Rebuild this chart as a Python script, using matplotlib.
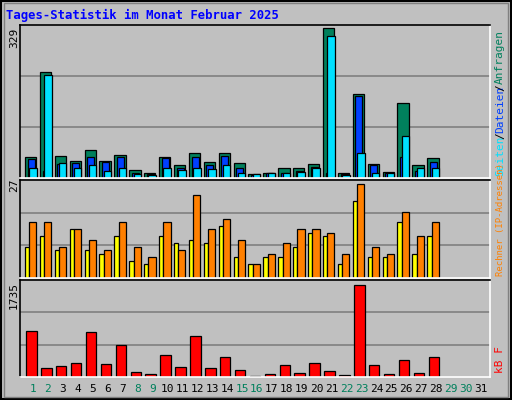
import matplotlib
matplotlib.use("Agg")
import matplotlib.pyplot as plt
from matplotlib.patches import Rectangle
import numpy as np

days = list(range(1, 29))
day_labels = [str(d) for d in range(1, 32)]
weekend = [1, 2, 8, 9, 15, 16, 22, 23, 29, 30]
hits = [47, 232, 49, 38, 62, 38, 51, 17, 10, 47, 28, 54, 35, 54, 32, 8, 12, 23, 21, 30, 329, 12, 184, 30, 13, 164, 28, 43]
files = [41, 15, 30, 32, 45, 36, 47, 10, 8, 43, 21, 47, 28, 49, 21, 6, 10, 12, 15, 25, 12, 8, 180, 28, 12, 47, 15, 36]
pages = [23, 227, 32, 21, 29, 15, 21, 8, 6, 21, 17, 23, 19, 28, 10, 8, 10, 10, 13, 21, 312, 6, 54, 12, 10, 93, 21, 23]
visits = [9, 12, 8, 14, 8, 7, 12, 5, 4, 12, 10, 11, 10, 15, 6, 4, 6, 6, 9, 13, 12, 4, 22, 6, 6, 16, 7, 12]
sites = [16, 16, 9, 14, 11, 8, 16, 9, 6, 16, 8, 24, 14, 17, 11, 4, 7, 10, 14, 14, 13, 7, 27, 9, 7, 19, 12, 16]
kbytes = [864, 178, 216, 273, 845, 254, 597, 102, 64, 407, 197, 769, 178, 369, 140, 25, 64, 235, 83, 273, 121, 44, 1735, 235, 64, 330, 83, 369]

W, H = 512, 400
fig = plt.figure(figsize=(W/100, H/100), dpi=100)
fig.patch.set_facecolor("#C0C0C0")
MONO = "DejaVu Sans Mono"

def ax_at(x0, y0, x1, y1):
    a = fig.add_axes([x0/W, 1-y1/H, (x1-x0)/W, (y1-y0)/H])
    a.set_facecolor("#C0C0C0")
    a.set_xlim(0.13, 31.67)
    a.set_xticks([]); a.set_yticks([])
    for s in ("left", "top"):
        a.spines[s].set_color("black")
    for s in ("right", "bottom"):
        a.spines[s].set_color("white")
    for s in a.spines.values():
        s.set_linewidth(1.2)
    return a

fig.add_artist(Rectangle((0.002, 0.002), 0.996, 0.996, transform=fig.transFigure,
                         fill=False, edgecolor="black", lw=1.5))
fig.add_artist(Rectangle((0.008, 0.008), 0.984, 0.984, transform=fig.transFigure,
                         fill=False, edgecolor="#808080", lw=1))

d = np.array(days)
ek = dict(edgecolor="black", linewidth=0.9, align="edge")

a1 = ax_at(20, 25, 490, 178)
top1 = 329 * 1.02
a1.set_ylim(0, top1)
for g in (top1/3, 2*top1/3):
    a1.axhline(g, color="#808080", lw=1.2, zorder=0)
a1.bar(d-0.54, hits, width=0.76, color="#00805C", **ek)
a1.bar(d-0.36, files, width=0.47, color="#0040FF", **ek)
a1.bar(d-0.25, pages, width=0.5, color="#00E0FF", **ek)

a2 = ax_at(20, 180, 490, 278)
top2 = 27 * 96/92
a2.set_ylim(0, top2)
for g in (top2/3, 2*top2/3):
    a2.axhline(g, color="#808080", lw=1.2, zorder=0)
a2.bar(d-0.54, visits, width=0.29, color="#FFFF00", **ek)
a2.bar(d-0.25, sites, width=0.48, color="#FF8000", **ek)

a3 = ax_at(20, 280, 490, 377)
top3 = 1735 * 96/91
a3.set_ylim(0, top3)
for g in (top3/3, 2*top3/3):
    a3.axhline(g, color="#808080", lw=1.2, zorder=0)
a3.bar(d-0.45, kbytes, width=0.7, color="#FF0000", **ek)

fig.text(6/W, 1-15/H, "Tages-Statistik im Monat Februar 2025", color="#0000FF",
         fontsize=8.8, fontweight="bold", family=MONO, va="center", ha="left")

for y, s in ((28, "329"), (178, "27"), (282, "1735")):
    fig.text(14/W, 1-y/H, s, rotation=90, fontsize=8, family=MONO, va="top", ha="center")

for i, lab in enumerate(day_labels):
    x = 33 + i * 14.93
    c = "#00805C" if (i+1) in weekend else "black"
    fig.text(x/W, 1-389/H, lab, color=c, fontsize=8, family=MONO, ha="center", va="center")

def vlabel(y_bottom, parts, fs=8, step=6.1):
    y = y_bottom
    for txt, col in parts:
        fig.text(500/W, 1-y/H, txt, rotation=90, color=col, fontsize=fs,
                 family=MONO, ha="center", va="bottom")
        y -= len(txt) * step

vlabel(176, [("Seiten", "#00E0FF"), ("/", "black"), ("Dateien", "#0040FF"),
             ("/", "black"), ("Anfragen", "#00805C")])
vlabel(276, [("Rechner (IP-Adressen)", "#FF8000")], fs=6.5)
vlabel(373, [("kB F", "#FF0000")])

fig.savefig("out.png", dpi=100, facecolor=fig.get_facecolor())
